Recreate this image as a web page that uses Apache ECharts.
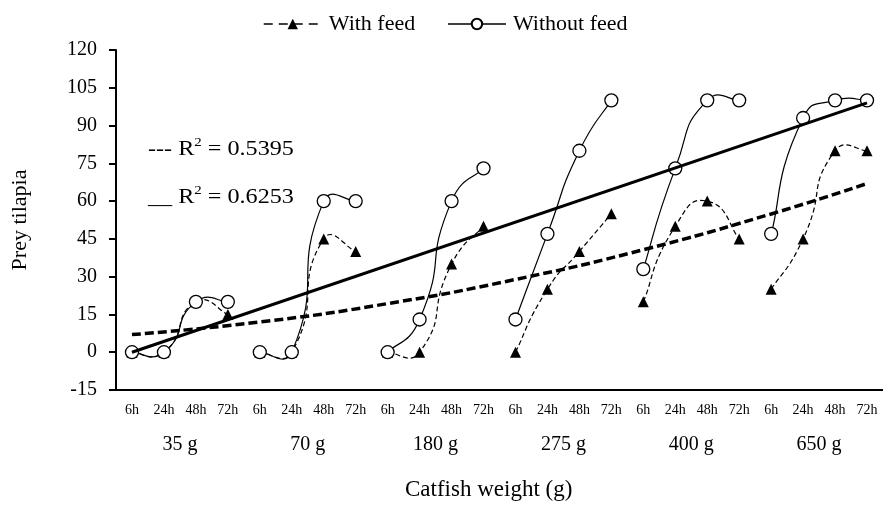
<!DOCTYPE html>
<html>
<head>
<meta charset="utf-8">
<script src="https://cdn.jsdelivr.net/npm/echarts@6/dist/echarts.min.js"></script>
<style>
  html, body { margin: 0; padding: 0; background: #fff; }
  #chart { width: 883px; height: 507px; }
</style>
</head>
<body>
<div id="chart"></div>
<script>
// categories
const weightLabels = ['35 g', '70 g', '180 g', '275 g', '400 g', '650 g'];
const timeLabels = ['6h', '24h', '48h', '72h'];
const yTicks = [-15, 0, 15, 30, 45, 60, 75, 90, 105, 120];

// prey eaten per weight group, values at 6h / 24h / 48h / 72h
const withFeed = [
    [0, 0, 20, 15],
    [0, 0, 45, 40],
    [0, 0, 35, 50],
    [0, 25, 40, 55],
    [20, 50, 60, 45],
    [25, 45, 80, 80]
];
const withoutFeed = [
    [0, 0, 20, 20],
    [0, 0, 60, 60],
    [0, 13, 60, 73],
    [13, 47, 80, 100],
    [33, 73, 100, 100],
    [47, 93, 100, 100]
];

// trend lines: [category index, value]
const linearTrend = [[0, 0], [23, 99]];
const polyTrend = [[0, 7], [4, 12], [8, 19.3], [12, 28.9], [16, 40.7], [20, 54.9], [23, 67]];

const FONT = "'Liberation Serif', 'Times New Roman', serif";
const SMOOTH = 0.6;

const categories = [];
weightLabels.forEach(w => timeLabels.forEach(t => categories.push(w + '|' + t)));

const chart = echarts.init(document.getElementById('chart'));

// excel-like smoothed curve through the 4 points of one weight group
function curveRenderer(lineDash) {
    return function (params, api) {
        const g = api.value(0);
        const pts = [];
        for (let k = 0; k < 4; k++) pts.push(api.coord([g * 4 + k, api.value(k + 1)]));
        const n = pts.length;
        let d = 'M' + pts[0][0] + ' ' + pts[0][1];
        for (let i = 0; i < n - 1; i++) {
            const p1 = pts[i], p2 = pts[i + 1];
            let c1 = [p1[0] + (p2[0] - p1[0]) / 3, p1[1] + (p2[1] - p1[1]) / 3];
            let c2 = [p2[0] - (p2[0] - p1[0]) / 3, p2[1] - (p2[1] - p1[1]) / 3];
            if (i > 0) {
                const p0 = pts[i - 1];
                const lp = Math.hypot(p1[0] - p0[0], p1[1] - p0[1]);
                const ln = Math.hypot(p2[0] - p1[0], p2[1] - p1[1]);
                const r = ln / (lp + ln);
                c1 = [p1[0] + (p2[0] - p0[0]) * SMOOTH * r, p1[1] + (p2[1] - p0[1]) * SMOOTH * r];
            }
            if (i + 2 < n) {
                const p3 = pts[i + 2];
                const lp = Math.hypot(p2[0] - p1[0], p2[1] - p1[1]);
                const ln = Math.hypot(p3[0] - p2[0], p3[1] - p2[1]);
                const r = lp / (lp + ln);
                c2 = [p2[0] - (p3[0] - p1[0]) * SMOOTH * r, p2[1] - (p3[1] - p1[1]) * SMOOTH * r];
            }
            d += ' C' + c1[0] + ' ' + c1[1] + ' ' + c2[0] + ' ' + c2[1] + ' ' + p2[0] + ' ' + p2[1];
        }
        return {
            type: 'path',
            shape: { pathData: d },
            style: { fill: 'none', stroke: '#000', lineWidth: 1.2, lineDash: lineDash }
        };
    };
}

const series = [];
// curves
series.push({
    type: 'custom',
    renderItem: curveRenderer([5, 3]),
    data: withFeed.map((vals, g) => [g].concat(vals)),
    encode: { x: 0, y: [1, 2, 3, 4] },
    z: 2
});
series.push({
    type: 'custom',
    renderItem: curveRenderer(null),
    data: withoutFeed.map((vals, g) => [g].concat(vals)),
    encode: { x: 0, y: [1, 2, 3, 4] },
    z: 3
});
// markers (line kept invisible, the curve above draws it)
withFeed.forEach((vals, g) => {
    series.push({
        name: 'With feed',
        type: 'line',
        data: vals.map((v, k) => [g * 4 + k, v]),
        symbol: 'triangle',
        symbolSize: 11,
        lineStyle: { color: '#000', width: 0 },
        itemStyle: { color: '#000' },
        z: 4
    });
});
withoutFeed.forEach((vals, g) => {
    series.push({
        name: 'Without feed',
        type: 'line',
        data: vals.map((v, k) => [g * 4 + k, v]),
        symbol: 'circle',
        symbolSize: 13,
        lineStyle: { color: '#000', width: 0 },
        itemStyle: { color: '#fff', borderColor: '#000', borderWidth: 1.3 },
        z: 5
    });
});
series.push({
    name: 'Poly trend',
    type: 'line',
    smooth: true,
    data: polyTrend,
    symbol: 'none',
    lineStyle: { color: '#000', width: 3.5, type: [9, 4] },
    z: 6
});
series.push({
    name: 'Linear trend',
    type: 'line',
    data: linearTrend,
    symbol: 'none',
    lineStyle: { color: '#000', width: 3 },
    z: 6
});

const option = {
    backgroundColor: '#fff',
    animation: false,
    grid: { left: 116, right: -8, top: 50, bottom: 117 },
    legend: {
        data: [
            { name: 'With feed', lineStyle: { width: 1.5, type: [9, 6], color: '#000' } },
            { name: 'Without feed', lineStyle: { width: 1.5, type: 'solid', color: '#000' } }
        ],
        left: 258,
        top: 8,
        itemWidth: 58,
        itemHeight: 13,
        itemGap: 32,
        textStyle: { fontFamily: FONT, fontSize: 22, color: '#000', padding: [0, 0, 0, 2] }
    },
    xAxis: [
        {
            type: 'category',
            data: categories,
            axisLine: { onZero: false, lineStyle: { color: '#000', width: 2 } },
            axisTick: { length: 5, lineStyle: { color: '#000', width: 2 } },
            axisLabel: {
                interval: 0,
                margin: 13,
                fontFamily: FONT,
                fontSize: 14,
                color: '#000',
                formatter: v => v.split('|')[1]
            }
        },
        {
            type: 'category',
            data: weightLabels,
            position: 'bottom',
            axisLine: { show: false, onZero: false },
            axisTick: { show: false },
            axisLabel: { interval: 0, margin: 45, fontFamily: FONT, fontSize: 20, color: '#000' }
        }
    ],
    yAxis: {
        type: 'value',
        min: yTicks[0],
        max: yTicks[yTicks.length - 1],
        interval: 15,
        name: 'Prey tilapia',
        nameLocation: 'middle',
        nameGap: 85,
        nameTextStyle: { fontFamily: FONT, fontSize: 22, color: '#000' },
        splitLine: { show: false },
        axisLine: { show: true, lineStyle: { color: '#000', width: 2 } },
        axisTick: { show: true, length: 7, lineStyle: { color: '#000', width: 2 } },
        axisLabel: { margin: 19, fontFamily: FONT, fontSize: 20, color: '#000' }
    },
    graphic: [
        {
            type: 'text',
            left: 148,
            top: 136,
            scaleX: 1.15,
            style: {
                text: '{a|--- R}{s|2}{a| = 0.5395}',
                rich: {
                    a: { fontFamily: FONT, fontSize: 21, fill: '#000', lineHeight: 26 },
                    s: { fontFamily: FONT, fontSize: 13, fill: '#000', verticalAlign: 'top', lineHeight: 26 }
                }
            }
        },
        {
            type: 'text',
            left: 148,
            top: 184,
            scaleX: 1.15,
            style: {
                text: '{a|__ R}{s|2}{a| = 0.6253}',
                rich: {
                    a: { fontFamily: FONT, fontSize: 21, fill: '#000', lineHeight: 26 },
                    s: { fontFamily: FONT, fontSize: 13, fill: '#000', verticalAlign: 'top', lineHeight: 26 }
                }
            }
        },
        {
            type: 'text',
            left: 405,
            top: 478,
            style: { text: 'Catfish weight (g)', fontFamily: FONT, fontSize: 23, fill: '#000' }
        }
    ],
    series: series
};

chart.setOption(option);
window.addEventListener('resize', () => chart.resize());
</script>
</body>
</html>
